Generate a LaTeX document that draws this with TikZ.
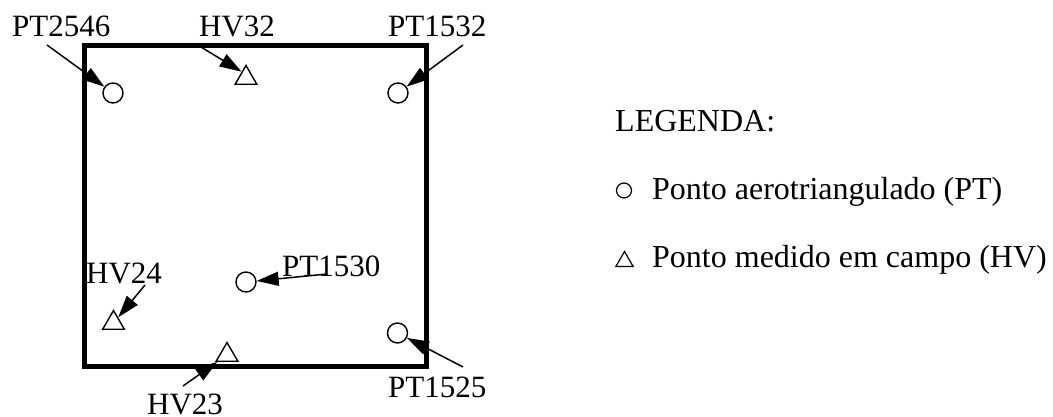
\documentclass[tikz,border=0pt]{standalone}
\usepackage{fontspec}
\setmainfont{Liberation Serif}
\usetikzlibrary{shapes.geometric,arrows.meta}

\begin{document}
\begin{tikzpicture}[x=1pt,y=-1pt,>={Triangle[length=22pt,width=14pt]},
  every node/.style={font=\fontsize{31}{36}\selectfont},
  lbl/.style={anchor=base west,inner sep=0pt},
  ptm/.style={draw,circle,line width=1.4pt,minimum size=20pt,inner sep=0pt},
  hvm/.style={draw,regular polygon,regular polygon sides=3,line width=1.4pt,minimum size=25pt,inner sep=0pt},
  seta/.style={->,line width=1.5pt}]
\useasboundingbox (0,0) rectangle (1053,417);
% photo frame
\draw[line width=5pt] (84.5,46) rectangle (426,366);
% points
\node[ptm] (pt2546) at (113,93) {};
\node[ptm] (pt1532) at (398,93) {};
\node[ptm] (pt1530) at (246,282) {};
\node[ptm] (pt1525) at (397.5,333) {};
\node[hvm] (hv32) at (246,78) {};
\node[hvm] (hv24) at (113.5,323) {};
\node[hvm] (hv23) at (227,355) {};
% labels
\node[lbl] (l2546) at (12,37) {PT2546};
\node[lbl] (l32) at (199,37) {HV32};
\node[lbl] (l1532) at (388,37) {PT1532};
\node[lbl] (l24) at (86,283) {HV24};
\node[lbl] (l1530) at (282,276) {PT1530};
\node[lbl] (l1525) at (388,397) {PT1525};
\node[lbl] (l23) at (147,414) {HV23};
% arrow tails
\coordinate (a2546) at (47,45);
\coordinate (a32) at (201,47);
\coordinate (a1532) at (463,45);
\coordinate (a24) at (145,285);
\coordinate (a1530) at (327,274);
\coordinate (a1525) at (463,367);
\coordinate (a23) at (183,386);
\draw[seta] (a2546) -- (pt2546);
\draw[seta] (a32) -- (hv32.125);
\draw[seta] (a1532) -- (pt1532);
\draw[seta] (a24) -- (hv24);
\draw[seta] (a1530) -- (pt1530);
\draw[seta] (a1525) -- (pt1525);
\draw[seta] (a23) -- (hv23);
% legend
\node[lbl,font=\fontsize{32}{38}\selectfont] (leg) at (615,132) {LEGENDA:};
\node[ptm,minimum size=15pt,line width=1.2pt] (legpt) at (624,190.5) {};
\node[hvm,minimum size=20pt,line width=1.2pt] (leghv) at (624.5,261.5) {};
\node[lbl,font=\fontsize{32}{38}\selectfont] (txtpt) at (652,200) {Ponto aerotriangulado (PT)};
\node[lbl,font=\fontsize{32}{38}\selectfont] (txthv) at (652,267) {Ponto medido em campo (HV)};
\end{tikzpicture}
\end{document}
